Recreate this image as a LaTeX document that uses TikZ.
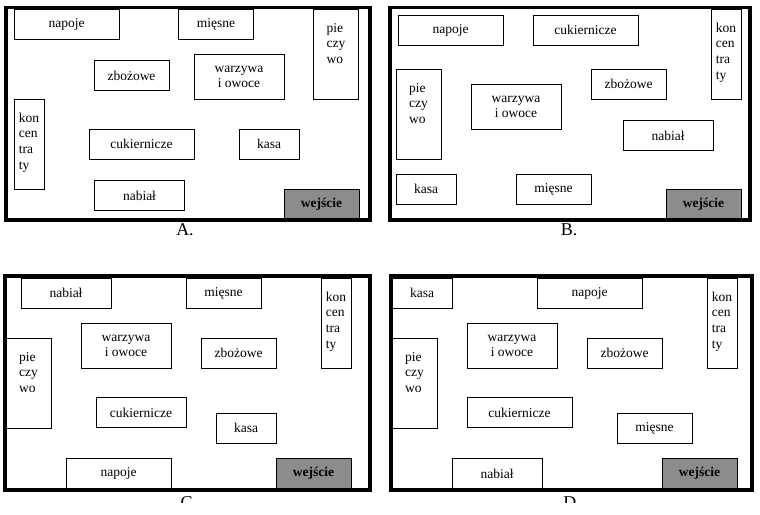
\documentclass[tikz,border=0pt]{standalone}
\usepackage{fontspec}
\setmainfont{Liberation Serif}
\newcommand{\colstack}[1]{\parbox[c][66pt][t]{28pt}{\centering\renewcommand{\arraystretch}{1.05}%
  \begin{tabular}{@{}l@{}}#1\end{tabular}}}
\begin{document}
\begin{tikzpicture}[x=1pt,y=-1pt,
  stall/.style={draw,line width=1pt,inner sep=0pt,minimum width=#1pt,minimum height=30pt,
    font=\fontsize{13.5}{15}\selectfont},
  tall/.style={stall=#1,minimum height=90pt},
  door/.style={stall=75,fill=black!45,font=\fontsize{13.5}{15}\selectfont\bfseries},
  frame/.style={line width=3.5pt},
  caption/.style={font=\fontsize{18}{21}\selectfont,anchor=base}]
\useasboundingbox (0,0) rectangle (760,514);

\node[stall=105] (A1) at (66.5,24) {napoje};
\node[stall=75] (A2) at (216,24) {mięsne};
\node[tall=45] (A3) at (336,54) {\colstack{pie\\czy\\wo}};
\node[stall=75] (A4) at (131.5,75.5) {zbożowe};
\node[stall=90,minimum height=45pt,align=center] (A5) at (239,76.5) {warzywa\\i owoce};
\node[tall=30] (A6) at (29,144) {\colstack{kon\\cen\\tra\\ty}};
\node[stall=105] (A7) at (141.5,144) {cukiernicze};
\node[stall=60] (A8) at (269,144) {kasa};
\node[stall=90] (A9) at (139.5,195.5) {nabiał};
\node[door] (A10) at (321.5,204) {wejście};
\draw[frame] (6,7.5) rectangle (370,220);
\node[caption] (capA) at (185,235) {A.};

\node[stall=105] (B1) at (450.5,30) {napoje};
\node[stall=105] (B2) at (585.5,30) {cukiernicze};
\node[tall=30] (B3) at (726,54) {\colstack{kon\\cen\\tra\\ty}};
\node[tall=45] (B4) at (418.5,114) {\colstack{pie\\czy\\wo}};
\node[stall=90,minimum height=45pt,align=center] (B5) at (516,106.5) {warzywa\\i owoce};
\node[stall=75] (B6) at (628.5,84) {zbożowe};
\node[stall=90] (B7) at (668,135.5) {nabiał};
\node[stall=60] (B8) at (426,189) {kasa};
\node[stall=75] (B9) at (553.5,189) {mięsne};
\node[door] (B10) at (703.5,204) {wejście};
\draw[frame] (390,7.5) rectangle (750,220);
\node[caption] (capB) at (569,235) {B.};

\node[stall=90] (C1) at (66,293) {nabiał};
\node[stall=75] (C2) at (223.5,293) {mięsne};
\node[tall=30] (C3) at (336,323) {\colstack{kon\\cen\\tra\\ty}};
\node[stall=90,minimum height=45pt,align=center] (C4) at (126,345.5) {warzywa\\i owoce};
\node[stall=75] (C5) at (238.5,353) {zbożowe};
\node[tall=45] (C6) at (28.5,383) {\colstack{pie\\czy\\wo}};
\node[stall=90] (C7) at (141,412.5) {cukiernicze};
\node[stall=60] (C8) at (246,428) {kasa};
\node[stall=105] (C9) at (118.5,473.5) {napoje};
\node[door] (C10) at (313.5,473.5) {wejście};
\draw[frame] (5,276) rectangle (370,490);

\node[stall=60] (D1) at (422,293) {kasa};
\node[stall=105] (D2) at (589.5,293) {napoje};
\node[tall=30] (D3) at (722,323) {\colstack{kon\\cen\\tra\\ty}};
\node[tall=45] (D4) at (414.5,383) {\colstack{pie\\czy\\wo}};
\node[stall=90,minimum height=45pt,align=center] (D5) at (512,345.5) {warzywa\\i owoce};
\node[stall=75] (D6) at (624.5,353) {zbożowe};
\node[stall=105] (D7) at (519.5,412.5) {cukiernicze};
\node[stall=75] (D8) at (654.5,428) {mięsne};
\node[stall=90] (D9) at (497,473.5) {nabiał};
\node[door] (D10) at (699.5,473.5) {wejście};
\draw[frame] (391,276) rectangle (752,490);

\begin{scope}
\clip (0,0) rectangle (760,502);
\node[caption] (capC) at (189,508) {C.};
\node[caption] (capD) at (572,508) {D.};
\end{scope}
\end{tikzpicture}
\end{document}
